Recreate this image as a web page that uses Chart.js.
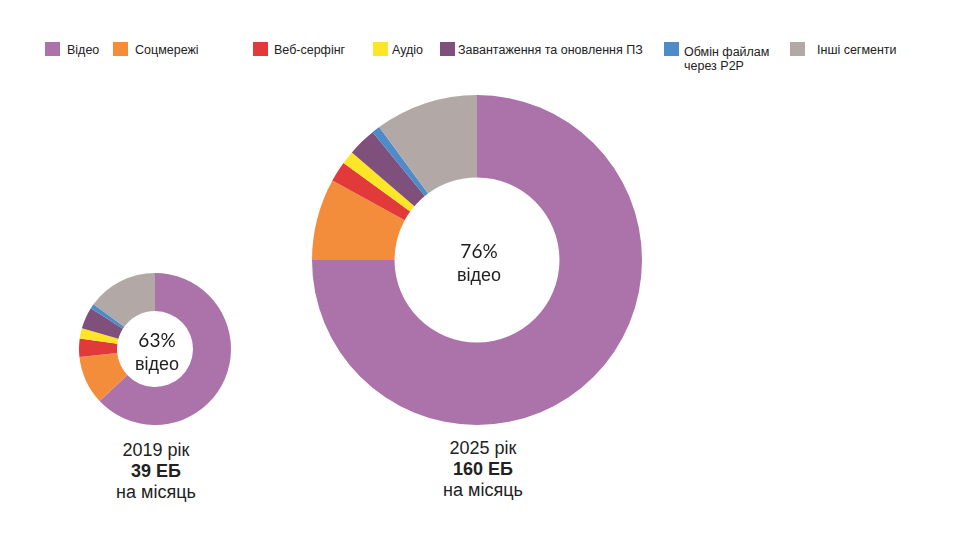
<!DOCTYPE html>
<html lang="uk">
<head>
<meta charset="utf-8">
<title>Трафік</title>
<script src="https://cdn.jsdelivr.net/npm/chart.js@4.4.1/dist/chart.umd.min.js"></script>
<style>
  body { margin: 0; background: #fff; font-family: 'Liberation Sans', Arial, sans-serif; color: #222; }
  #page { position: relative; width: 956px; height: 543px; overflow: hidden; }
  .box { position: absolute; }
  .sw { position: absolute; top: 42px; width: 15px; height: 14px; }
  .lt { position: absolute; top: 43px; font-size: 12.5px; line-height: 14px; white-space: pre-line; }
  .cap { position: absolute; width: 200px; text-align: center; font-size: 18px; line-height: 21px; }
  .cap b { font-weight: bold; }
</style>
</head>
<body>
<div id="page">
  <div class="box" id="box2019" style="left:79px; top:273px; width:152px; height:152px;"><canvas id="chart2019"></canvas></div>
  <div class="box" id="box2025" style="left:312px; top:95px; width:330px; height:330px;"><canvas id="chart2025"></canvas></div>
  <div class="cap" id="cap2019" style="left:56px; top:440px;"></div>
  <div class="cap" id="cap2025" style="left:383px; top:438px;"></div>
</div>
<script>
// Категорії трафіку
const categories = ['Відео', 'Соцмережі', 'Веб-серфінг', 'Аудіо', 'Завантаження та оновлення ПЗ', 'Обмін файлам\nчерез P2P', 'Інші сегменти'];
const colors = ['#AB73A9', '#F48D3B', '#E2393A', '#FCE627', '#7F507C', '#4D8BC9', '#B2A9A7'];

// Частки, %
const share2019 = [63, 10.3, 3.9, 2.2, 4.6, 1, 15];
const share2025 = [75, 8, 2, 1.3, 2.8, 0.8, 10.1];

const centerTop = ['63%', '76%'];
const centerBottom = 'відео';
const years = ['2019 рік', '2025 рік'];
const totals = ['39 ЕБ', '160 ЕБ'];
const perMonth = 'на місяць';

// Легенда
const swatchX = [45, 113, 253, 373, 440, 664, 790];
const labelX = [67, 135, 274, 392, 458, 684, 817];
const page = document.getElementById('page');
categories.forEach(function (c, i) {
    const sw = document.createElement('div');
    sw.className = 'sw';
    sw.style.left = swatchX[i] + 'px';
    sw.style.background = colors[i];
    page.appendChild(sw);
    const lt = document.createElement('div');
    lt.className = 'lt';
    lt.style.left = labelX[i] + 'px';
    if (i === 5) lt.style.top = '45px';
    lt.textContent = c;
    page.appendChild(lt);
});

// Підписи під діаграмами
[['cap2019', 0], ['cap2025', 1]].forEach(function (p) {
    const el = document.getElementById(p[0]);
    el.innerHTML = years[p[1]] + '<br><b>' + totals[p[1]] + '</b><br>' + perMonth;
});

// Текст у центрі кільця
const centerText = {
    id: 'centerText',
    afterDraw(chart, args, opts) {
        const arc = chart.getDatasetMeta(0).data[0];
        const ctx = chart.ctx;
        ctx.save();
        ctx.textAlign = 'center';
        ctx.textBaseline = 'alphabetic';
        ctx.fillStyle = '#1c1c1c';
        ctx.font = '19px Lato, sans-serif';
        ctx.fillText(opts.top, arc.x + 2, arc.y - 2);
        ctx.fillStyle = '#222';
        ctx.font = '18px "Liberation Sans", Arial, sans-serif';
        ctx.fillText(opts.bottom, arc.x + 2, arc.y + 21);
        ctx.restore();
    }
};

function makeDonut(id, values, top) {
    return new Chart(document.getElementById(id), {
        type: 'doughnut',
        data: {
            labels: categories,
            datasets: [{
                data: values,
                backgroundColor: colors,
                borderWidth: 0,
                hoverOffset: 0
            }]
        },
        options: {
            responsive: true,
            maintainAspectRatio: false,
            animation: false,
            cutout: '50%',
            layout: { padding: 0 },
            plugins: {
                legend: { display: false },
                tooltip: { enabled: false },
                centerText: { top: top, bottom: centerBottom }
            }
        },
        plugins: [centerText]
    });
}

makeDonut('chart2019', share2019, centerTop[0]);
makeDonut('chart2025', share2025, centerTop[1]);
</script>
</body>
</html>
